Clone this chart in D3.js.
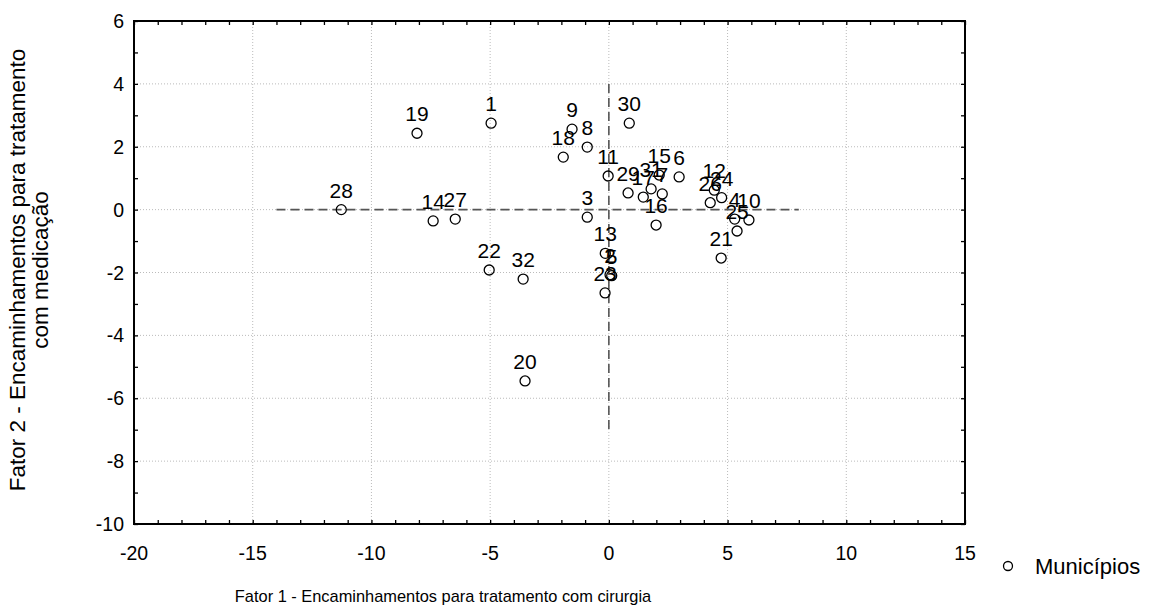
<!DOCTYPE html>
<html><head><meta charset="utf-8">
<script src="https://cdn.jsdelivr.net/npm/d3@7"></script>
<style>body{margin:0;background:#fff;} text{font-family:"Liberation Sans",Arial,sans-serif;}</style>
</head><body><svg id="c" width="1157" height="610"></svg>
<script>
const labels = ["1","2","3","4","5","6","7","8","9","10","11","12","13","14","15","16","17","18","19","20","21","22","23","24","25","26","27","28","29","30","31","32"];
const fator1 = [-4.96,0.05,-0.91,5.30,0.12,2.96,2.25,-0.91,-1.55,5.90,-0.03,4.44,-0.15,-7.40,2.12,1.99,1.45,-1.92,-8.08,-3.53,4.73,-5.04,-0.16,4.75,5.40,4.27,-6.47,-11.27,0.81,0.86,1.78,-3.61];
const fator2 = [2.75,-2.07,-0.24,-0.30,-2.10,1.04,0.50,1.99,2.56,-0.33,1.07,0.62,-1.39,-0.36,1.10,-0.49,0.40,1.67,2.43,-5.45,-1.54,-1.92,-2.65,0.38,-0.68,0.22,-0.30,0.00,0.53,2.75,0.66,-2.21];
const xTicks = [-20,-15,-10,-5,0,5,10,15];
const yTicks = [-10,-8,-6,-4,-2,0,2,4,6];
const refH = {y:0, x0:-14, x1:8};
const refV = {x:0, y0:4, y1:-7};

const svg = d3.select("#c");
const L=134, R=965, T=21, B=524;
const x = d3.scaleLinear().domain([-20,15]).range([L,R]);
const y = d3.scaleLinear().domain([-10,6]).range([B,T]);
const g = svg.append("g");

// grid
g.selectAll(".gx").data(xTicks.slice(1,-1)).enter().append("line")
 .attr("x1",d=>x(d)).attr("x2",d=>x(d)).attr("y1",T).attr("y2",B)
 .attr("stroke","#bbb").attr("stroke-dasharray","1,2");
g.selectAll(".gy").data(yTicks.slice(1,-1)).enter().append("line")
 .attr("y1",d=>y(d)).attr("y2",d=>y(d)).attr("x1",L).attr("x2",R)
 .attr("stroke","#bbb").attr("stroke-dasharray","1,2");

// minor ticks (inside) on all sides
const xm = d3.range(-20,16,1), ym = d3.range(-10,7,1);
const ax = (sel,axis)=>{sel.call(axis); sel.select(".domain").remove(); sel.selectAll("text").remove(); sel.selectAll("line").attr("stroke","#000").attr("stroke-width",1.3);};
svg.append("g").attr("transform",`translate(0,${B})`).call(s=>ax(s,d3.axisTop(x).tickValues(xm).tickSize(4)));
svg.append("g").attr("transform",`translate(0,${T})`).call(s=>ax(s,d3.axisBottom(x).tickValues(xm).tickSize(4)));
svg.append("g").attr("transform",`translate(${L},0)`).call(s=>ax(s,d3.axisRight(y).tickValues(ym).tickSize(4)));
svg.append("g").attr("transform",`translate(${R},0)`).call(s=>ax(s,d3.axisLeft(y).tickValues(ym).tickSize(4)));

// frame
svg.append("rect").attr("x",L).attr("y",T).attr("width",R-L).attr("height",B-T)
 .attr("fill","none").attr("stroke","#000").attr("stroke-width",2);

// tick labels
svg.selectAll(".xl").data(xTicks).enter().append("text")
 .attr("x",d=>x(d)).attr("y",B+36).attr("text-anchor","middle").attr("font-size",19.5).text(d=>d);
svg.selectAll(".yl").data(yTicks).enter().append("text")
 .attr("x",L-10).attr("y",d=>y(d)+7).attr("text-anchor","end").attr("font-size",19.5).text(d=>d);

// reference dashed lines
svg.append("line").attr("x1",x(refH.x0)).attr("x2",x(refH.x1)).attr("y1",y(refH.y)).attr("y2",y(refH.y))
 .attr("stroke","#555").attr("stroke-width",1.6).attr("stroke-dasharray","9,5");
svg.append("line").attr("x1",x(refV.x)).attr("x2",x(refV.x)).attr("y1",y(refV.y0)).attr("y2",y(refV.y1))
 .attr("stroke","#555").attr("stroke-width",1.6).attr("stroke-dasharray","9,5");

// points
const data = labels.map((l,i)=>({l, a:fator1[i], b:fator2[i]}));
svg.selectAll(".pt").data(data).enter().append("circle")
 .attr("cx",d=>x(d.a)).attr("cy",d=>y(d.b)).attr("r",5)
 .attr("fill","none").attr("stroke","#000").attr("stroke-width",1.3);
svg.selectAll(".lb").data(data).enter().append("text")
 .attr("x",d=>x(d.a)).attr("y",d=>y(d.b)-12).attr("text-anchor","middle").attr("font-size",21).text(d=>d.l);

// axis titles
svg.append("text").attr("x",443).attr("y",602).attr("text-anchor","middle").attr("font-size",16.4)
 .text("Fator 1 - Encaminhamentos para tratamento com cirurgia");
const yt = svg.append("text").attr("transform","translate(25,270) rotate(-90)").attr("text-anchor","middle").attr("font-size",22.5);
yt.append("tspan").attr("x",0).attr("dy",0).text("Fator 2 - Encaminhamentos para tratamento");
yt.append("tspan").attr("x",0).attr("dy",23).text("com medicação");

// legend
svg.append("circle").attr("cx",1008).attr("cy",566).attr("r",4.5).attr("fill","none").attr("stroke","#000").attr("stroke-width",1.3);
svg.append("text").attr("x",1035).attr("y",574).attr("font-size",22).text("Municípios");
</script></body></html>
